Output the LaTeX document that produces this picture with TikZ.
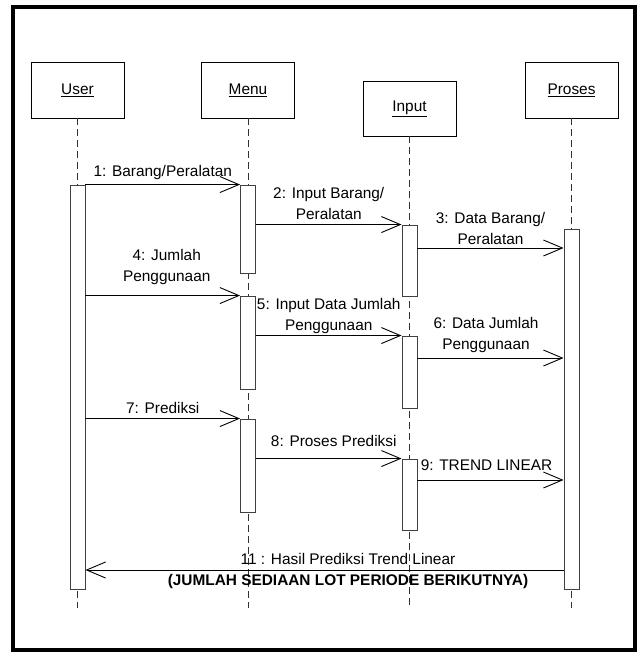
\documentclass[tikz,border=0pt]{standalone}
\usepackage{fontspec}
\setmainfont{Liberation Sans}
\usetikzlibrary{arrows.meta}

\begin{document}
\begin{tikzpicture}[x=1pt, y=-1pt,
		obj/.style={draw, line width=0.9pt, minimum width=93pt, minimum height=56pt, inner sep=0pt, font=\fontsize{15.4}{18}\selectfont},
		actbar/.style={draw=black!75, fill=white, line width=0.9pt, minimum width=15pt, inner sep=0pt},
		lifeline/.style={dash pattern=on 7pt off 4pt, line width=0.8pt, black!80},
		msg/.style={line width=0.9pt, -{Straight Barb[length=19pt, width=16pt]}},
		lbl/.style={align=center, inner sep=0pt, font=\fontsize{15.4}{21}\selectfont}
	]

	\useasboundingbox (0,0) rectangle (637,653);
	\draw[line width=4pt] (13,7) rectangle (635,650);

	% objects
	\node[obj] (user) at (77.5, 90) {\underline{User}};
	\node[obj] (menu) at (248, 90) {\underline{Menu}};
	\node[obj, minimum height=55pt] (input) at (409.5, 108.5) {\underline{Input}};
	\node[obj] (proses) at (571.5, 90) {\underline{Proses}};

	\coordinate (bottom) at (0, 608);
	\foreach \obj in {user, menu, input, proses}
	{
		\draw[lifeline] (\obj.south) -- (\obj.south |- bottom);
	}

	% activation bars
	\node[actbar, minimum height=404pt] (u1) at (77.5, 387) {};
	\node[actbar, minimum height=88pt] (m1) at (248, 229) {};
	\node[actbar, minimum height=93pt] (m2) at (248, 342.5) {};
	\node[actbar, minimum height=93pt] (m3) at (248, 465.5) {};
	\node[actbar, minimum height=71pt] (i1) at (409.5, 260.5) {};
	\node[actbar, minimum height=72pt] (i2) at (409.5, 372) {};
	\node[actbar, minimum height=71pt] (i3) at (409.5, 494.5) {};
	\node[actbar, minimum height=360pt] (p1) at (571.5, 409) {};

	\coordinate (t3) at (0, 248);
	\coordinate (t6) at (0, 358);
	\coordinate (t9) at (0, 480);
	\coordinate (t11) at (0, 570);

	% messages
	\draw[msg] (u1.north east) -- (m1.north west)
		node[lbl, midway, yshift=12pt] (l1) {1: Barang/Peralatan};
	\draw[msg] (m1.east |- i1.north) -- (i1.north west)
		node[lbl, midway, yshift=21.5pt] (l2) {2: Input Barang/\\Peralatan};
	\draw[msg] (i1.east |- t3) -- (p1.west |- t3)
		node[lbl, midway, yshift=19.5pt] (l3) {3: Data Barang/\\Peralatan};
	\draw[msg] (u1.east |- m2.north) -- (m2.north west)
		node[lbl, midway, xshift=4pt, yshift=28.5pt] (l4) {4: Jumlah\\Penggunaan};
	\draw[msg] (m2.east |- i2.north) -- (i2.north west)
		node[lbl, midway, yshift=19.5pt] (l5) {5: Input Data Jumlah\\Penggunaan};
	\draw[msg] (i2.east |- t6) -- (p1.west |- t6)
		node[lbl, midway, xshift=-4.5pt, yshift=23pt] (l6) {6: Data Jumlah\\Penggunaan};
	\draw[msg] (u1.east |- m3.north) -- (m3.north west)
		node[lbl, midway, yshift=11pt] (l7) {7: Prediksi};
	\draw[msg] (m3.east |- i3.north) -- (i3.north west)
		node[lbl, midway, xshift=5pt, yshift=18pt] (l8) {8: Proses Prediksi};
	\draw[msg] (i3.east |- t9) -- (p1.west |- t9)
		node[lbl, midway, xshift=-4pt, yshift=15pt] (l9) {9: TREND LINEAR};
	\draw[msg] (p1.west |- t11) -- (u1.east |- t11)
		node[lbl, midway, xshift=23.5pt, yshift=11pt] (l11) {11 : Hasil Prediksi Trend Linear}
		node[lbl, midway, xshift=23.5pt, yshift=-12pt, font=\fontsize{15.4}{18}\selectfont\bfseries] (l11b) {(JUMLAH SEDIAAN LOT PERIODE BERIKUTNYA)};
\end{tikzpicture}
\end{document}
